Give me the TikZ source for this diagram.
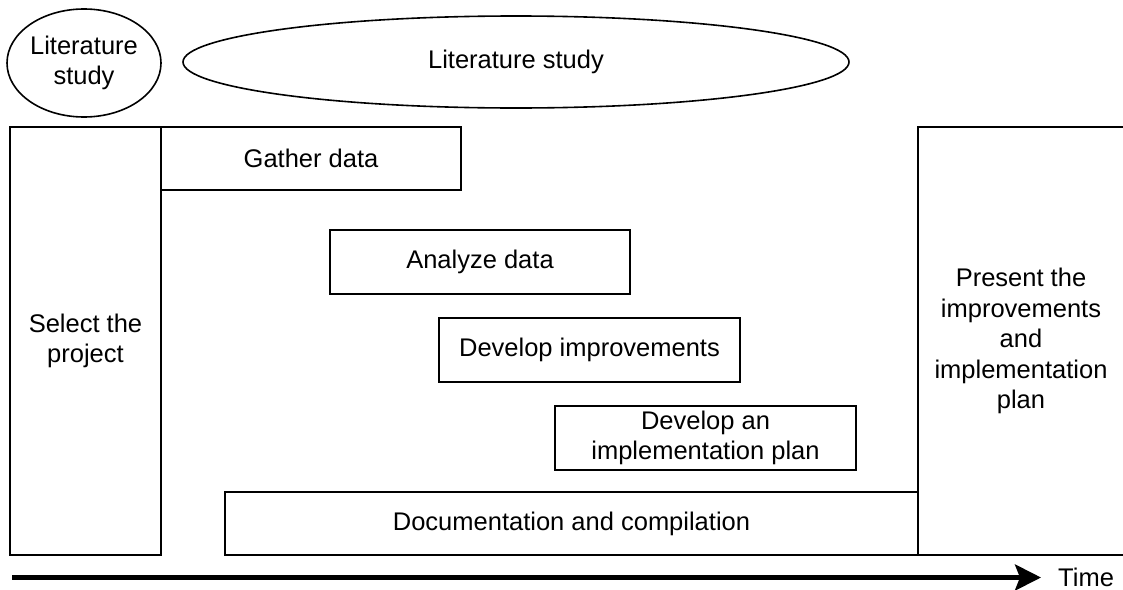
\documentclass[tikz,border=0pt]{standalone}
\usepackage{fontspec}
\setmainfont{Liberation Sans}
\usetikzlibrary{shapes.geometric,arrows.meta}
\begin{document}
\begin{tikzpicture}[x=1pt,y=-1pt,
  lbl/.style={font=\fontsize{25.5}{30.5}\selectfont, align=center, inner sep=0pt},
  ell/.style={lbl, draw, ellipse, line width=1.6pt},
  taskbox/.style={lbl, draw, rectangle, line width=1.6pt},
  outline/.style={line width=1.6pt},
  timearrow/.style={line width=4.5pt, -{Stealth[length=26pt,width=26pt,inset=5pt]}}]
\useasboundingbox (0,0) rectangle (1123,589);
\node[ell, minimum width=154pt, minimum height=108pt] (lit1) at (84,63) {Literature\\study};
\node[ell, minimum width=666pt, minimum height=92pt] (lit2) at (516,62) {Literature study};
\node[taskbox, minimum width=151pt, minimum height=428pt] (select) at (85.5,341) {Select the\\project};
\node[taskbox, minimum width=300pt, minimum height=63pt] (gather) at (311,158.5) {Gather data};
\node[taskbox, minimum width=300pt, minimum height=64pt] (analyze) at (480,262) {Analyze data};
\node[taskbox, minimum width=301pt, minimum height=64pt] (devimp) at (589.5,350) {Develop improvements};
\node[taskbox, minimum width=301pt, minimum height=64pt] (devplan) at (705.5,438) {Develop an\\implementation plan};
\node[taskbox, minimum width=693pt, minimum height=63pt] (doc) at (571.5,523.5) {Documentation and compilation};
\node[lbl, minimum width=206pt, minimum height=428pt] (present) at (1021,341) {Present the\\improvements\\and\\implementation\\plan};
\draw[outline] (present.north east) -- (present.north west) -- (present.south west) -- (present.south east);
\coordinate (tstart) at (12,577.5);
\coordinate (tend) at (1041,577.5);
\draw[timearrow] (tstart) -- (tend);
\node[lbl, anchor=west] (time) at (1058,577) {Time};
\end{tikzpicture}
\end{document}
